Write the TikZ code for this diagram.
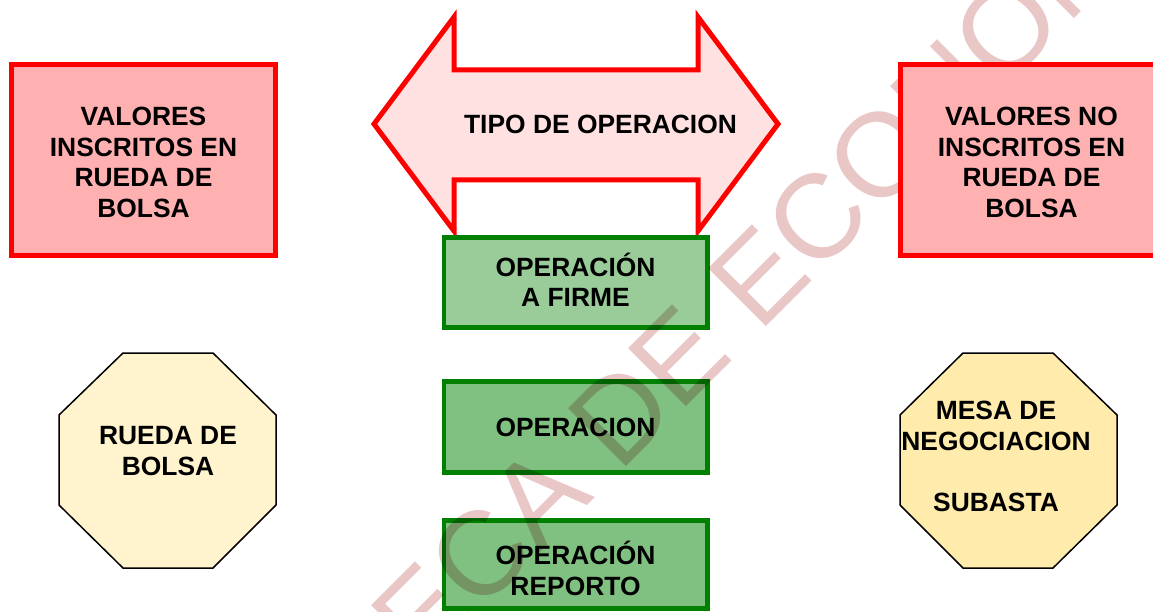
\documentclass[tikz,border=0pt]{standalone}
\usepackage{fontspec}
\setmainfont{Liberation Sans}
\definecolor{bordred}{RGB}{255,0,0}
\definecolor{rosebox}{RGB}{255,176,176}
\definecolor{arrowfill}{RGB}{255,225,225}
\definecolor{grnline}{RGB}{0,128,0}
\definecolor{grnlight}{RGB}{153,204,153}
\definecolor{grnmid}{RGB}{128,192,128}
\definecolor{creamA}{RGB}{255,244,206}
\definecolor{creamB}{RGB}{255,235,172}
\definecolor{wmpink}{RGB}{233,199,199}
\tikzset{
  lbl/.style={font=\fontsize{26.4}{30.5}\selectfont\bfseries, align=center, inner sep=0pt},
  redbox/.style={draw=bordred, fill=rosebox, line width=5pt, minimum width=264pt, minimum height=191pt, inner sep=0pt},
  grnbox/.style={draw=grnline, line width=4.5pt, minimum width=263.5pt, inner sep=0pt},
  octa/.style={draw=black, line width=1.5pt, line join=miter},
  bigarrow/.style={draw=bordred, fill=arrowfill, line width=5pt, line join=miter},
  wmark/.style={text=wmpink, font=\fontsize{119}{119}\selectfont, inner sep=0pt},
}
\begin{document}
\begin{tikzpicture}[x=1pt,y=-1pt]
\useasboundingbox (0,0) rectangle (1153,612);
\clip (0,0) rectangle (1153,612);
\fill[white] (0,0) rectangle (1153,612);

% left red box
\node[redbox] (vi) at (143.5,160) {};
\node[lbl] (vitxt) at (143.5,162.5) {VALORES\\INSCRITOS EN\\RUEDA DE\\BOLSA};

% double arrow
\draw[bigarrow] (374,124) -- (454,17) -- (454,70) -- (698,70) -- (698,17) -- (778,124)
  -- (698,231) -- (698,180) -- (454,180) -- (454,231) -- cycle;
\node[lbl] (tipo) at (600.5,124) {TIPO DE OPERACION};

% green boxes
\node[grnbox, fill=grnlight, minimum height=90pt] (firme) at (575.75,282.5) {};
\node[lbl] (firmetxt) at (575.5,279.7) {OPERACIÓN\\A FIRME};
\node[grnbox, fill=grnmid, minimum height=91pt] (oper) at (575.75,427) {};
\node[lbl] (opertxt) at (575.5,427) {OPERACION};
\node[grnbox, fill=grnmid, minimum height=88pt] (rep) at (575.75,564.5) {};
\node[lbl] (reptxt) at (575.5,568.2) {OPERACIÓN\\REPORTO};

% octagons
\draw[octa, fill=creamA] (123,353) -- (213,353) -- (276,415) -- (276,505) -- (213,568)
  -- (123,568) -- (59,505) -- (59,415) -- cycle;
\node[lbl] (rueda) at (168,451) {RUEDA DE\\BOLSA};
\draw[octa, fill=creamB] (963,353) -- (1053,353) -- (1117,415) -- (1117,505) -- (1053,568)
  -- (963,568) -- (900,505) -- (900,415) -- cycle;
\node[lbl] (mesa) at (996,456.5) {MESA DE\\NEGOCIACION\\[30.5pt]SUBASTA};

% watermark
\begin{scope}[blend mode=multiply]
\node[wmark, rotate=45, anchor=base west] (wm) at (100,993) {BIBLIOTECA DE ECONOMIA};
\end{scope}

% right red box
\node[redbox] (vni) at (1032,160) {};
\node[lbl] (vnitxt) at (1031.5,162.5) {VALORES NO\\INSCRITOS EN\\RUEDA DE\\BOLSA};
\end{tikzpicture}
\end{document}
